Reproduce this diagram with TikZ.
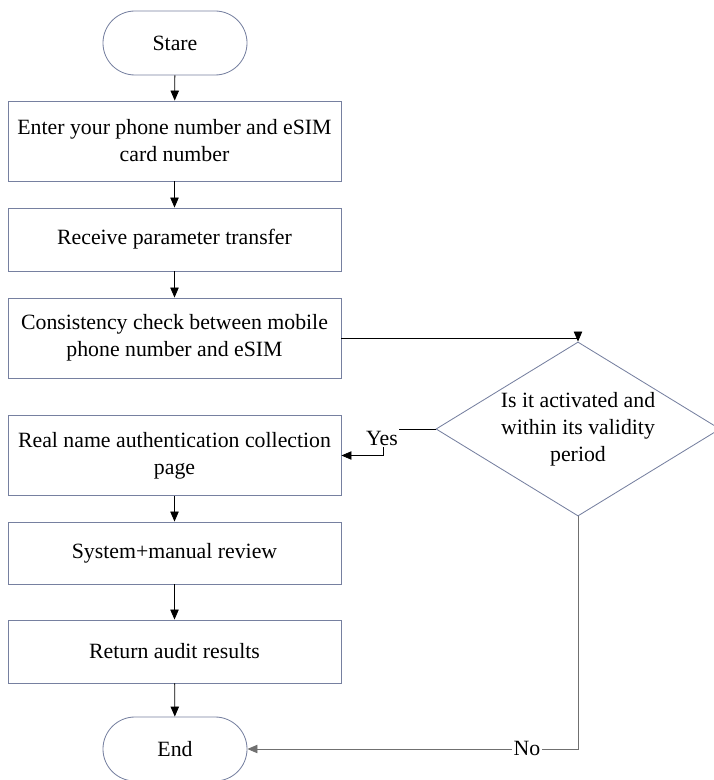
\documentclass[tikz,border=0pt]{standalone}
\usepackage{fontspec}
\setmainfont{Liberation Serif}
\usepackage{tikz}
\usepackage{xcolor}
\usetikzlibrary{arrows.meta,shapes.geometric}
\definecolor{boxline}{RGB}{118,128,160}
\definecolor{noline}{RGB}{112,112,112}

\tikzset{
  flowtext/.style={font=\fontsize{15.5pt}{19.2pt}\selectfont,align=center},
  procbox/.style={flowtext,draw=boxline,line width=0.6pt,rectangle,minimum width=8.325cm,inner sep=0pt},
  termbox/.style={flowtext,draw=boxline,line width=0.6pt,rectangle,rounded corners=0.8cm,minimum width=3.6cm,minimum height=1.6cm},
  decbox/.style={flowtext,draw=boxline,line width=0.6pt,diamond,aspect=1.62,inner sep=0pt,minimum width=7.1cm,minimum height=4.35cm},
  flowarr/.style={-{Triangle[length=2.5mm,width=2.1mm]},line width=0.6pt},
  edgelbl/.style={flowtext,fill=white,inner sep=1pt}
}

\begin{document}
\begin{tikzpicture}[x=0.025cm,y=-0.025cm]
\useasboundingbox (0,0) rectangle (714,780);
% terminals and process boxes
\node[termbox] (start) at (175,43) {Stare};
\node[procbox,minimum height=2cm] (enter) at (174.5,141) {Enter your phone number and eSIM\\card number};
\node[procbox,minimum height=1.575cm] (receive) at (174.5,239.5) {Receive parameter transfer};
\node[procbox,minimum height=2cm] (check) at (174.5,338) {Consistency check between mobile\\phone number and eSIM};
\node[procbox,minimum height=2cm] (realname) at (174.5,455.5) {Real name authentication collection\\page};
\node[procbox,minimum height=1.55cm] (review) at (174.5,553) {System+manual review};
\node[procbox,minimum height=1.575cm] (result) at (174.5,651.5) {Return audit results};
\node[termbox] (stop) at (175,749) {End};
% decision
\node[decbox] (valid) at (578,429) {Is it activated and\\within its validity\\period};

% main flow
\draw[flowarr] (start) -- (enter);
\draw[flowarr] (enter) -- (receive);
\draw[flowarr] (receive) -- (check);
\draw[flowarr] (check.east) -| (valid.north);
\draw[flowarr] (realname) -- (review);
\draw[flowarr] (review) -- (result);
\draw[flowarr] (result) -- (stop);

% branches
\coordinate (yesbend) at (383,429);
\draw[flowarr,line width=0.5pt] (valid.west) -- (yesbend) |- (realname.east);
\node[edgelbl] (yes) at (382,438) {Yes};
\draw[flowarr,draw=noline,line width=0.6pt] (valid.south) |- (stop.east);
\node[edgelbl] (no) at (527,748) {No};
\end{tikzpicture}
\end{document}
